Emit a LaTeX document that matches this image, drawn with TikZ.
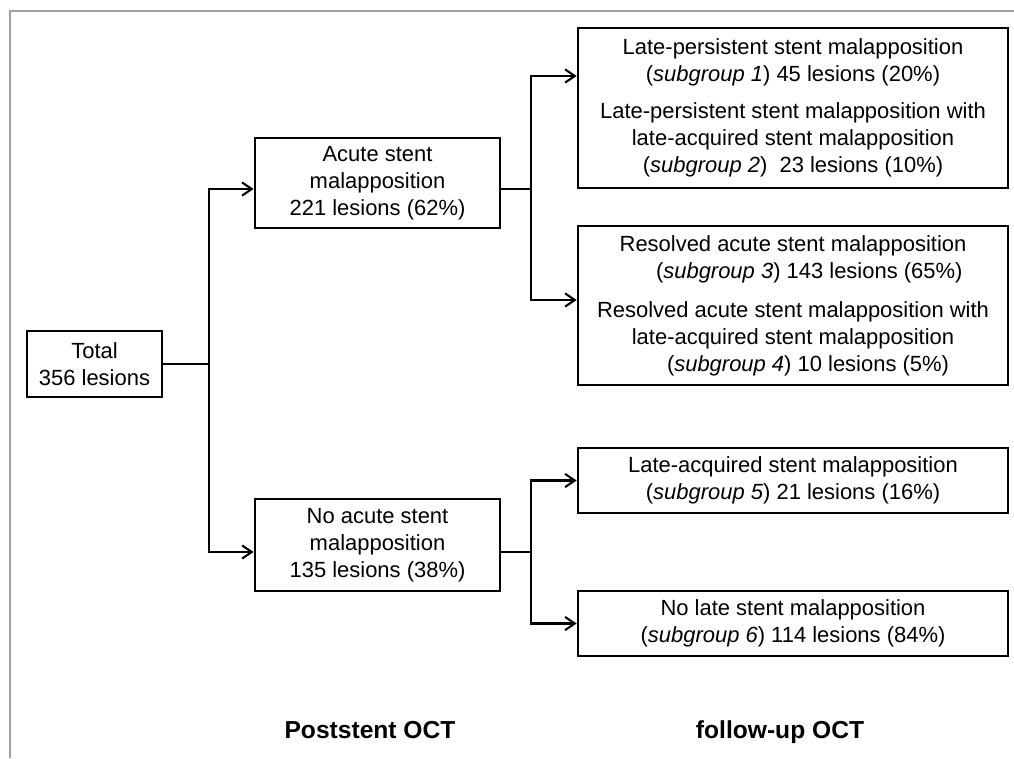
\documentclass[tikz,border=0pt]{standalone}
\usepackage{fontspec}
\setmainfont{Liberation Sans}
\usepackage{xcolor}
\usepackage{tikz}
\usetikzlibrary{arrows.meta,positioning,calc}

\definecolor{framegray}{RGB}{160,160,164}

\begin{document}
\begin{tikzpicture}[x=0.02cm,y=-0.02cm,>={Straight Barb[length=5.5pt,width=7.5pt]},
  box/.style={draw,line width=1.6pt,align=center,inner sep=0pt,
    font=\fontsize{12.5}{15.4}\selectfont},
  link/.style={line width=1.2pt},
  phase/.style={anchor=base,font=\fontsize{14}{16}\selectfont\bfseries}]
  \useasboundingbox (0,0) rectangle (1014,758);
  \draw[framegray,line width=1.7pt] (10,758)--(10,11)--(1014,11);

  \node[box,minimum width=2.7cm,minimum height=1.32cm] (total) at (94.5,364) {Total\\356 lesions};
  \node[box,minimum width=4.9cm,minimum height=1.8cm] (acute) at (377.5,183)
    {Acute stent\\malapposition\\221 lesions (62\%)};
  \node[box,minimum width=4.9cm,minimum height=1.84cm] (noacute) at (377.5,545)
    {No acute stent\\malapposition\\135 lesions (38\%)};

  \node[box,minimum width=8.6cm,minimum height=3.2cm] (sg12) at (793,108)
    {Late-persistent stent malapposition\\(\textit{subgroup 1}) 45 lesions (20\%)\\[0.2cm]
     Late-persistent stent malapposition with\\late-acquired stent malapposition\\
     (\textit{subgroup 2})\ \ 23 lesions (10\%)};
  \node[box,minimum width=8.6cm,minimum height=3.18cm] (sg34) at (793,305.5)
    {Resolved acute stent malapposition\\\hspace*{0.65cm}(\textit{subgroup 3}) 143 lesions (65\%)\\[0.24cm]
     Resolved acute stent malapposition with\\late-acquired stent malapposition\\
     \hspace*{0.6cm}(\textit{subgroup 4}) 10 lesions (5\%)};
  \node[box,minimum width=8.6cm,minimum height=1.3cm] (sg5) at (793,480.5)
    {Late-acquired stent malapposition\\(\textit{subgroup 5}) 21 lesions (16\%)};
  \node[box,minimum width=8.6cm,minimum height=1.3cm] (sg6) at (793,623.5)
    {No late stent malapposition\\(\textit{subgroup 6}) 114 lesions (84\%)};

  \draw[link] (total.east) -- ++(46,0) coordinate (split0);
  \draw[link,->] (split0) |- ([yshift=-0.12cm]acute.west);
  \draw[link,->] (split0) |- ([yshift=-0.14cm]noacute.west);

  \draw[link] ([yshift=-0.12cm]acute.east) -- ++(30,0) coordinate (split1);
  \draw[link,->] (split1) |- ([yshift=0.64cm]sg12.west);
  \draw[link,->] (split1) |- ([yshift=0.11cm]sg34.west);

  \draw[link] ([yshift=-0.14cm]noacute.east) -- ++(30,0) coordinate (split2);
  \draw[link,->] (split2) |- (sg5.west);
  \draw[link,->] (split2) |- (sg6.west);

  \node[phase] (post) at (370,738) {Poststent OCT};
  \node[phase] (follow) at (780,738) {follow-up OCT};
\end{tikzpicture}
\end{document}
